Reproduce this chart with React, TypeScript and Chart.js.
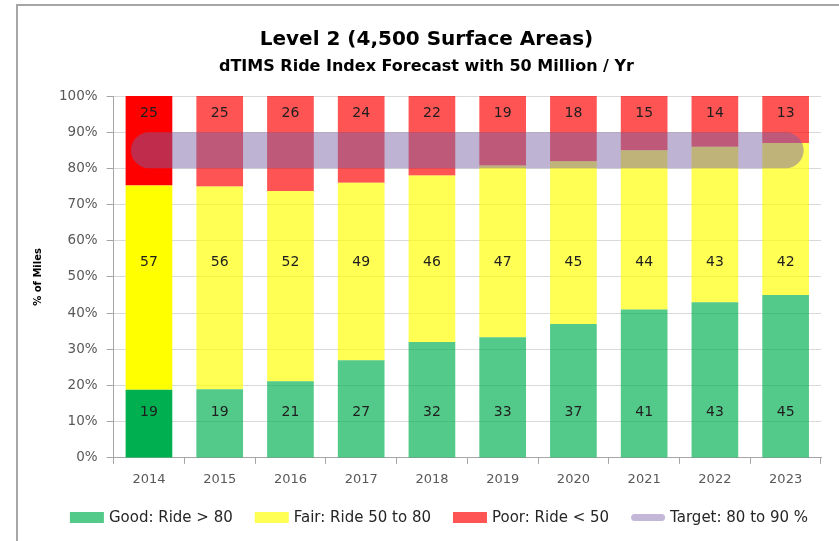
import React, { useEffect, useRef } from 'react';
import { Chart, registerables } from 'chart.js';

Chart.register(...registerables);

// ---- data ----
const years = ['2014', '2015', '2016', '2017', '2018', '2019', '2020', '2021', '2022', '2023'];
const good = [19, 19, 21, 27, 32, 33, 37, 41, 43, 45];
const fair = [57, 56, 52, 49, 46, 47, 45, 44, 43, 42];
const poor = [25, 25, 26, 24, 22, 19, 18, 15, 14, 13];
const targetLow = 80;
const targetHigh = 90;
const yTickValues = [0, 10, 20, 30, 40, 50, 60, 70, 80, 90, 100];

// ---- styles ----
const FONT = "'DejaVu Sans', 'Open Sans', sans-serif";
const GREEN = 'rgb(0,176,80)';
const GREEN_T = 'rgba(0,176,80,0.67)';
const YELLOW = 'rgb(255,255,0)';
const YELLOW_T = 'rgba(255,255,0,0.67)';
const RED = 'rgb(255,0,0)';
const RED_T = 'rgba(255,0,0,0.67)';
const TARGET = 'rgba(119,94,162,0.47)';
const TARGET_LEGEND = 'rgb(196,184,216)';
// label anchor levels (in % of the value axis)
const LABEL_LEVEL = { good: 12.6, fair: 54, poor: 95.2 };

const totals = years.map((_, i) => good[i] + fair[i] + poor[i]);
const pct = (arr: number[]) => arr.map((v, i) => (v / totals[i]) * 100);
const colorFor = (solid: string, trans: string) => years.map((_, i) => (i === 0 ? solid : trans));

const labelPlugin = {
  id: 'segLabels',
  afterDatasetsDraw(chart: any) {
    const { ctx } = chart;
    const yScale = chart.scales.y;
    ctx.save();
    ctx.font = `14px ${FONT}`;
    ctx.fillStyle = '#1e1e1e';
    ctx.textAlign = 'center';
    ctx.textBaseline = 'middle';
    chart.data.datasets.forEach((ds: any, i: number) => {
      if (!ds.rawValues) return;
      const meta = chart.getDatasetMeta(i);
      const y = yScale.getPixelForValue(ds.labelLevel);
      meta.data.forEach((bar: any, j: number) => {
        ctx.fillText(String(ds.rawValues[j]), bar.x, y);
      });
    });
    ctx.restore();
  },
};

// custom single-row legend (the built-in one wraps at this width)
const LEGEND = { centerX: 439, y: 517.5, box: 34, boxH: 11, pillH: 7, textGap: 5, itemGap: 22, size: 15 };
const legendPlugin = {
  id: 'rowLegend',
  afterDraw(chart: any) {
    const { ctx } = chart;
    ctx.save();
    ctx.font = `${LEGEND.size}px ${FONT}`;
    ctx.textBaseline = 'middle';
    ctx.textAlign = 'left';
    const items = chart.data.datasets.map((ds: any) => ({ text: ds.label, color: ds.legendColor, pill: ds.type === 'line' }));
    const widths = items.map((it: any) => LEGEND.box + LEGEND.textGap + ctx.measureText(it.text).width);
    const total = widths.reduce((a: number, b: number) => a + b, 0) + LEGEND.itemGap * (items.length - 1);
    let x = LEGEND.centerX - total / 2;
    const y = LEGEND.y;
    items.forEach((it: any, i: number) => {
      if (it.pill) {
        ctx.strokeStyle = it.color;
        ctx.lineWidth = LEGEND.pillH;
        ctx.lineCap = 'round';
        ctx.beginPath();
        ctx.moveTo(x + LEGEND.pillH / 2, y);
        ctx.lineTo(x + LEGEND.box - LEGEND.pillH / 2, y);
        ctx.stroke();
      } else {
        ctx.fillStyle = it.color;
        ctx.fillRect(x, y - LEGEND.boxH / 2, LEGEND.box, LEGEND.boxH);
      }
      ctx.fillStyle = '#262626';
      ctx.fillText(it.text, x + LEGEND.box + LEGEND.textGap, y + 0.5);
      x += widths[i] + LEGEND.itemGap;
    });
    ctx.restore();
  },
};

export default function App() {
  const ref = useRef<HTMLCanvasElement | null>(null);

  useEffect(() => {
    if (!ref.current) return;
    const chart = new Chart(ref.current, {
      type: 'bar',
      data: {
        labels: years,
        datasets: [
          {
            type: 'bar',
            label: 'Good: Ride > 80',
            data: pct(good),
            rawValues: good,
            labelLevel: LABEL_LEVEL.good,
            legendColor: GREEN_T,
            backgroundColor: colorFor(GREEN, GREEN_T),
            stack: 'ride',
            order: 1,
          } as any,
          {
            type: 'bar',
            label: 'Fair: Ride 50 to 80',
            data: pct(fair),
            rawValues: fair,
            labelLevel: LABEL_LEVEL.fair,
            legendColor: YELLOW_T,
            backgroundColor: colorFor(YELLOW, YELLOW_T),
            stack: 'ride',
            order: 1,
          } as any,
          {
            type: 'bar',
            label: 'Poor: Ride < 50',
            data: pct(poor),
            rawValues: poor,
            labelLevel: LABEL_LEVEL.poor,
            legendColor: RED_T,
            backgroundColor: colorFor(RED, RED_T),
            stack: 'ride',
            order: 1,
          } as any,
          {
            type: 'line',
            label: 'Target: 80 to 90 %',
            data: years.map(() => (targetLow + targetHigh) / 2),
            legendColor: TARGET_LEGEND,
            borderColor: TARGET,
            borderWidth: 36,
            borderCapStyle: 'round',
            pointRadius: 0,
            fill: false,
            stack: 'target',
            order: 0,
          } as any,
        ],
      },
      options: {
        responsive: false,
        animation: false,
        devicePixelRatio: 1,
        layout: { padding: { left: 32, right: 18, top: 0, bottom: 45.5 } },
        datasets: { bar: { categoryPercentage: 1, barPercentage: 0.66 } } as any,
        plugins: {
          title: {
            display: true,
            text: 'Level 2 (4,500 Surface Areas)',
            color: '#000',
            font: { family: FONT, size: 20, weight: 'bold' },
            padding: { top: 28, bottom: 0 },
          },
          subtitle: {
            display: true,
            text: 'dTIMS Ride Index Forecast with 50 Million / Yr',
            color: '#000',
            font: { family: FONT, size: 16, weight: 'bold' },
            padding: { top: 5.4, bottom: 19.4 },
          },
          legend: { display: false },
          tooltip: { enabled: false },
        },
        scales: {
          x: {
            stacked: true,
            offset: true,
            grid: { drawOnChartArea: false, tickLength: 6, color: '#A6A6A6', offset: true },
            border: { color: '#A6A6A6' },
            ticks: { font: { family: FONT, size: 13 }, color: '#595959', padding: 8, maxRotation: 0 },
          },
          y: {
            stacked: true,
            min: 0,
            max: 100,
            afterBuildTicks: (axis: any) => {
              axis.ticks = yTickValues.map((v) => ({ value: v }));
            },
            ticks: {
              font: { family: FONT, size: 13.5 },
              color: '#595959',
              padding: 9,
              callback: (v: any) => `${v}%`,
            },
            grid: { color: '#D9D9D9', tickColor: '#A6A6A6', tickLength: 7 },
            border: { color: '#A6A6A6' },
            title: {
              display: true,
              text: '% of Miles',
              color: '#000',
              font: { family: FONT, size: 10, weight: 'bold' },
              padding: { top: 0, bottom: 6 },
            },
          },
        },
      } as any,
      plugins: [labelPlugin, legendPlugin],
    });
    return () => chart.destroy();
  }, []);

  return (
    <div style={{ position: 'fixed', left: 0, top: 0, width: 839, height: 541, background: '#fff', overflow: 'hidden' }}>
      <div
        style={{
          position: 'absolute',
          left: 16,
          top: 4,
          width: 900,
          height: 600,
          borderLeft: '2px solid #A6A6A6',
          borderTop: '2px solid #A6A6A6',
        }}
      />
      <canvas ref={ref} width={839} height={541} style={{ position: 'absolute', left: 0, top: 0, display: 'block' }} />
    </div>
  );
}
